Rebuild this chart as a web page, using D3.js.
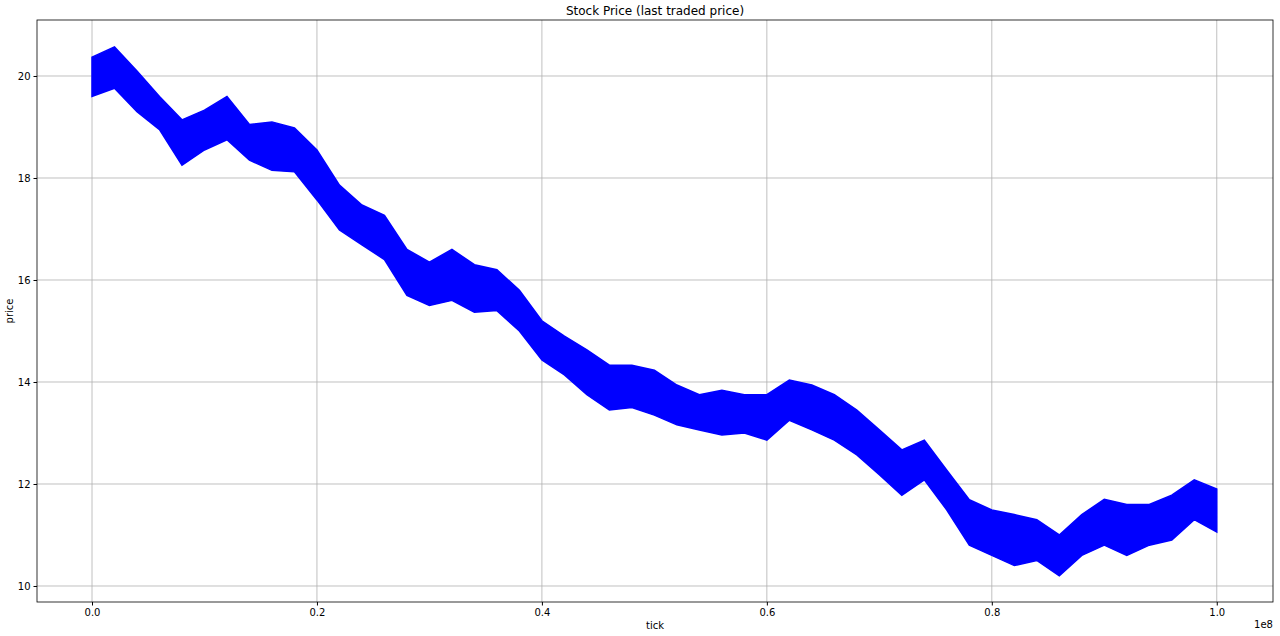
<!DOCTYPE html>
<html><head><meta charset="utf-8">
<script src="https://cdn.jsdelivr.net/npm/d3@7"></script>
<style>body{margin:0;background:#fff}text{font-family:"DejaVu Sans",sans-serif}</style>
</head><body><svg id="c" width="1280" height="636"></svg>
<script>
// tick in millions
var ticks = [0,2,4,6,8,10,12,14,16,18,20,22,24,26,28,30,32,34,36,38,40,42,44,46,48,50,52,54,56,58,60,62,64,66,68,70,72,74,76,78,80,82,84,86,88,90,92,94,96,98,100];
var high = [20.37,20.57,20.1,19.6,19.14,19.33,19.6,19.05,19.1,18.98,18.55,17.86,17.47,17.27,16.6,16.35,16.6,16.3,16.2,15.8,15.2,14.9,14.63,14.33,14.33,14.23,13.94,13.75,13.84,13.75,13.75,14.04,13.94,13.75,13.45,13.06,12.67,12.86,12.27,11.69,11.49,11.4,11.3,11.0,11.4,11.7,11.6,11.6,11.78,12.08,11.9];
var low = [19.6,19.76,19.3,18.95,18.25,18.55,18.75,18.35,18.15,18.12,17.57,16.98,16.69,16.4,15.7,15.5,15.6,15.37,15.4,15.0,14.43,14.14,13.75,13.45,13.5,13.35,13.16,13.06,12.96,13.0,12.86,13.25,13.06,12.86,12.57,12.18,11.78,12.08,11.49,10.8,10.6,10.4,10.5,10.2,10.6,10.8,10.6,10.8,10.9,11.3,11.06];
var xTicks = [0,0.2,0.4,0.6,0.8,1.0];
var yTicks = [10,12,14,16,18,20];

var svg = d3.select('#c');
var L=37,R=1273,T=20,B=602;
var x = d3.scaleLinear().domain([-0.0489,1.05]).range([L,R]);
var y = d3.scaleLinear().domain([9.686,21.098]).range([B,T]);

var g = svg.append('g');
xTicks.forEach(function(t){
  g.append('line').attr('x1',x(t)).attr('x2',x(t)).attr('y1',T).attr('y2',B).attr('stroke','#b0b0b0').attr('stroke-width',0.8);
});
yTicks.forEach(function(t){
  g.append('line').attr('x1',L).attr('x2',R).attr('y1',y(t)).attr('y2',y(t)).attr('stroke','#b0b0b0').attr('stroke-width',0.8);
});

var pts = ticks.map(function(t,i){return {x:t/100,h:high[i],l:low[i]};});
var area = d3.area().x(function(d){return x(d.x);}).y0(function(d){return y(d.l);}).y1(function(d){return y(d.h);});
svg.append('path').datum(pts).attr('d',area).attr('fill','#0000ff').attr('stroke','#0000ff').attr('stroke-width',1.5);

var xa = svg.append('g').attr('transform','translate(0,'+B+')').call(d3.axisBottom(x).tickValues(xTicks).tickFormat(d3.format('.1f')).tickSizeOuter(0).tickSize(3.5));
var ya = svg.append('g').attr('transform','translate('+L+',0)').call(d3.axisLeft(y).tickValues(yTicks).tickFormat(d3.format('d')).tickSizeOuter(0).tickSize(3.5));
[xa,ya].forEach(function(a){a.select('.domain').remove();a.selectAll('text').attr('font-size',10).attr('fill','#000').style('font-family','DejaVu Sans');});
svg.append('rect').attr('x',L).attr('y',T).attr('width',R-L).attr('height',B-T).attr('fill','none').attr('stroke','#000').attr('stroke-width',0.8);

svg.append('text').attr('x',(L+R)/2).attr('y',15).attr('text-anchor','middle').attr('font-size',12).text('Stock Price (last traded price)');
svg.append('text').attr('x',(L+R)/2).attr('y',629).attr('text-anchor','middle').attr('font-size',10).text('tick');
svg.append('text').attr('x',R).attr('y',628).attr('text-anchor','end').attr('font-size',10).text('1e8');
svg.append('text').attr('transform','translate(13,'+((T+B)/2)+') rotate(-90)').attr('text-anchor','middle').attr('font-size',10).text('price');
</script></body></html>
